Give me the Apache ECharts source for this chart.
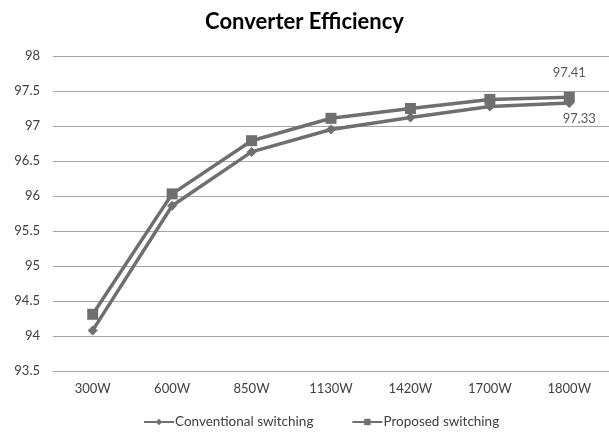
<!DOCTYPE html>
<html><head><meta charset="utf-8">
<script src="https://cdn.jsdelivr.net/npm/echarts@6/dist/echarts.min.js"></script>
<style>html,body{margin:0;padding:0;background:#fff}#c{width:609px;height:432px}</style>
</head><body><div id="c"></div>
<script>
const categories = ['300W','600W','850W','1130W','1420W','1700W','1800W'];
const conventional = [94.08, 95.86, 96.63, 96.95, 97.12, 97.28, 97.33];
const proposed = [94.31, 96.03, 96.79, 97.11, 97.25, 97.38, 97.41];
const yTicks = [93.5, 94, 94.5, 95, 95.5, 96, 96.5, 97, 97.5, 98];

const chart = echarts.init(document.getElementById('c'));
const font = 'Lato, "Open Sans", sans-serif';
const lastIdx = categories.length - 1;
chart.setOption({
  animation: false,
  title: { text: 'Converter Efficiency', left: 'center', top: 6,
    textStyle: { fontFamily: font, fontWeight: 'bold', fontSize: 22, color: '#000' } },
  grid: { left: 53, right: 0, top: 56, bottom: 61 },
  xAxis: { type: 'category', data: categories, boundaryGap: true,
    axisLine: { lineStyle: { color: '#a6a6a6', width: 1 } },
    axisTick: { show: false },
    axisLabel: { color: '#404040', fontFamily: font, fontSize: 13, margin: 11 } },
  yAxis: { type: 'value', min: yTicks[0], max: yTicks[yTicks.length-1], interval: 0.5,
    axisLine: { show: false }, axisTick: { show: false },
    axisLabel: { color: '#404040', fontFamily: font, fontSize: 13, margin: 13 },
    splitLine: { lineStyle: { color: '#a6a6a6', width: 1 } } },
  legend: { bottom: -2, left: 138, itemWidth: 30, itemHeight: 8, itemGap: 38,
    textStyle: { color: '#404040', fontFamily: font, fontSize: 13.5, padding: [0,0,0,-4] },
    data: ['Conventional switching', 'Proposed switching'] },
  series: [
    { name: 'Conventional switching', type: 'line', data: conventional,
      symbol: 'diamond', symbolSize: 10,
      lineStyle: { color: '#6f6f6f', width: 3.5 }, itemStyle: { color: '#6f6f6f' },
      label: { show: true, position: 'bottom', distance: 4, offset: [10, 0],
        color: '#595959', fontFamily: font, fontSize: 13,
        formatter: p => p.dataIndex === lastIdx ? p.value.toFixed(2) : '' } },
    { name: 'Proposed switching', type: 'line', data: proposed,
      symbol: 'rect', symbolSize: 11,
      lineStyle: { color: '#6f6f6f', width: 3.5 }, itemStyle: { color: '#6f6f6f' },
      label: { show: true, position: 'top', distance: 12,
        color: '#595959', fontFamily: font, fontSize: 13,
        formatter: p => p.dataIndex === lastIdx ? p.value.toFixed(2) : '' } }
  ]
});
</script></body></html>
